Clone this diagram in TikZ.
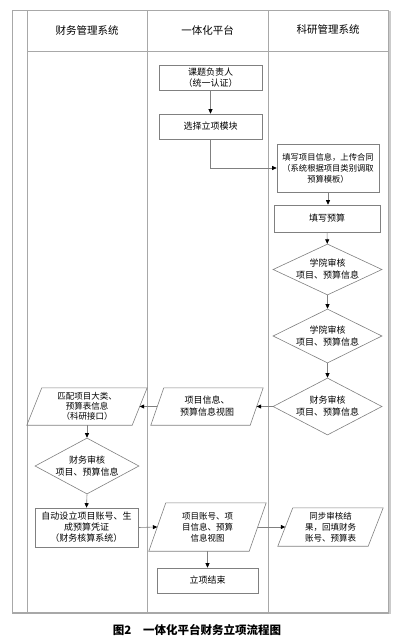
\documentclass[tikz,border=0pt]{standalone}
\usepackage{fontspec}
\setmainfont{Noto Sans CJK SC}
\usetikzlibrary{shapes.geometric,arrows.meta}
\definecolor{framegray}{HTML}{A8A8A8}
\definecolor{boxgray}{HTML}{808080}
\newcommand{\pgram}[2]{\draw[shapeline] ([xshift=#2]#1.north west) -- (#1.north east) -- ([xshift=-#2]#1.south east) -- (#1.south west) -- cycle;}
\begin{document}
\begin{tikzpicture}[x=1pt,y=-1pt,
  lane/.style={draw=framegray, line width=0.8pt},
  shapeline/.style={draw=boxgray, line width=0.6pt},
  box/.style={shapeline, rectangle, align=center, inner sep=1pt, font=\fontsize{9}{11}\selectfont},
  pnode/.style={rectangle, align=center, inner sep=0pt, font=\fontsize{8.5}{11}\selectfont},
  dia/.style={shapeline, diamond, inner sep=0pt},
  dtxt/.style={align=center, inner sep=0pt, font=\fontsize{9}{12}\selectfont},
  head/.style={font=\fontsize{10.5}{12}\selectfont},
  flow/.style={draw=boxgray, line width=0.6pt, -{Triangle[width=4pt,length=4.5pt,color=black]}}
]
\useasboundingbox (0,0) rectangle (400,640);
% frame and lanes
\draw[framegray!60, line width=2pt] (390,11) -- (390,614);
\draw[lane] (12,10) rectangle (388,613);
\draw[framegray, line width=2pt] (12,613) -- (389,613);
\draw[lane] (27,10) -- (27,613);
\draw[lane] (147,10) -- (147,613);
\draw[lane] (268,10) -- (268,613);
\draw[lane] (27,51) -- (388,51);
\node[head] (h1) at (87,30) {财务管理系统};
\node[head] (h2) at (207.5,30) {一体化平台};
\node[head] (h3) at (328,30) {科研管理系统};
% nodes
\node[box, minimum width=103pt, minimum height=25pt] (n1) at (210.5,77.5) {课题负责人\\（统一认证）};
\node[box, minimum width=103pt, minimum height=25pt] (n2) at (210.5,126.5) {选择立项模块};
\node[box, minimum width=102pt, minimum height=48pt, font=\fontsize{8.3}{11}\selectfont] (n3) at (328,168) {填写项目信息，上传合同\\（系统根据项目类别调取\\预算模板）};
\node[box, minimum width=106pt, minimum height=27pt] (n4) at (327,218.5) {填写预算};
\node[dia, minimum width=109pt, minimum height=51pt] (d1) at (327.5,269.5) {};
\node[dtxt] (d1t) at (d1) {学院审核\\项目、预算信息};
\node[dia, minimum width=109pt, minimum height=54pt] (d2) at (327.5,336) {};
\node[dtxt] (d2t) at (d2) {学院审核\\项目、预算信息};
\node[dia, minimum width=109pt, minimum height=57pt] (d3) at (327.5,406.5) {};
\node[dtxt] (d3t) at (d3) {财务审核\\项目、预算信息};
\node[pnode, minimum width=112pt, minimum height=37pt, font=\fontsize{9}{12}\selectfont] (p1) at (207,406.5) {项目信息、\\预算信息视图};
\pgram{p1}{13pt}
\node[pnode, minimum width=120pt, minimum height=37pt, font=\fontsize{8.5}{10}\selectfont] (p0) at (87,406.5) {匹配项目大类、\\预算表信息\\（科研接口）};
\pgram{p0}{15pt}
\node[dia, minimum width=104pt, minimum height=56pt] (d4) at (87,466) {};
\node[dtxt] (d4t) at (d4) {财务审核\\项目、预算信息};
\node[box, minimum width=103pt, minimum height=39pt] (b5) at (86.5,527.5) {自动设立项目账号、生\\成预算凭证\\（财务核算系统）};
\node[pnode, minimum width=117pt, minimum height=48pt] (p2) at (207.5,527) {项目账号、项\\目信息、预算\\信息视图};
\pgram{p2}{17pt}
\node[pnode, minimum width=105pt, minimum height=38pt] (p3) at (330.5,527) {同步审核结\\果，回填财务\\账号、预算表};
\pgram{p3}{15pt}
\node[box, minimum width=101pt, minimum height=25pt] (b6) at (207.5,580.5) {立项结束};
% connectors
\draw[flow] (n1) -- (n2);
\draw[flow] (n2.south) |- (n3.west);
\draw[flow] (n3.south) -- (n3.south |- n4.north);
\draw[flow] (n4) -- (d1);
\draw[flow] (d1) -- (d2);
\draw[flow] (d2) -- (d3);
\draw[flow] (d3.west) -- ([xshift=-6.5pt]p1.east);
\draw[flow] ([xshift=6.5pt]p1.west) -- ([xshift=-7.5pt]p0.east);
\draw[flow] (p0.south) -- (d4.north);
\draw[flow] (d4.south) -- (b5.north);
\draw[flow] (b5.east) -- ([xshift=8.5pt]p2.west);
\draw[flow] ([xshift=-8.5pt]p2.east) -- ([xshift=7.5pt]p3.west);
\draw[flow] (p2.south) -- (b6.north);
% caption
\node[font=\fontsize{11.5}{13}\selectfont\bfseries] (cap) at (197,630) {图2\quad 一体化平台财务立项流程图};
\end{tikzpicture}
\end{document}
